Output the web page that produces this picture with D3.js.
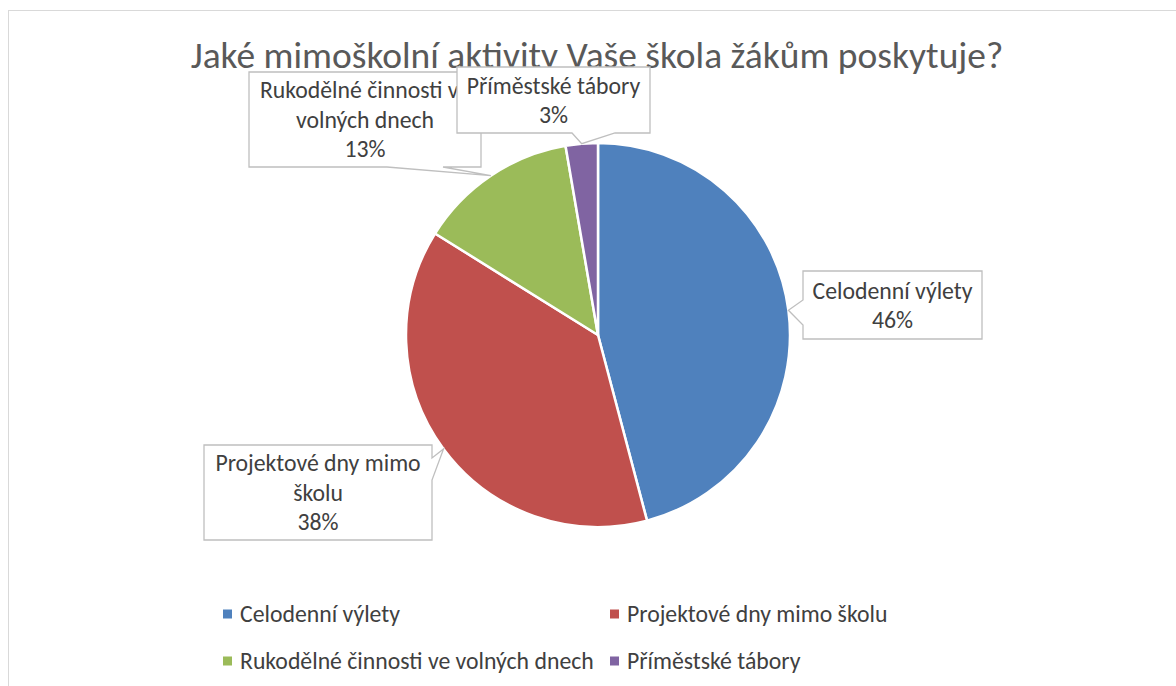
<!DOCTYPE html>
<html>
<head>
<meta charset="utf-8">
<script src="https://cdn.jsdelivr.net/npm/d3@7"></script>
<style>
  html, body { margin: 0; padding: 0; background: #fff; }
  svg { display: block; }
  text { font-family: Carlito, Lato, "Open Sans", sans-serif; }
</style>
</head>
<body>
<svg id="chart" width="1176" height="686"></svg>
<script>
// ---- data ----
const title = "Jaké mimoškolní aktivity Vaše škola žákům poskytuje?";
const categories = [
  "Celodenní výlety",
  "Projektové dny mimo školu",
  "Rukodělné činnosti ve volných dnech",
  "Příměstské tábory"
];
const values = [45.8, 37.9, 13.4, 2.7];
const colors = ["#4f81bd", "#c0504d", "#9bbb59", "#8064a2"];

// ---- layout ----
const W = 1176, H = 686;
const cx = 598, cy = 335, R = 192;
// callout boxes: [x, y, w, h], side of wedge, wedge base range along that side
const boxes = [
  { x: 803, y: 271, w: 179, h: 68, side: "left",   base: [300, 325] },
  { x: 204, y: 445, w: 228, h: 95, side: "right",  base: [458, 480] },
  { x: 249, y: 72,  w: 232, h: 95, side: "bottom", base: [387, 443] },
  { x: 457, y: 67,  w: 193, h: 66, side: "bottom", base: [572, 615] }
];
const lineH = 29.5;
const legendRows = [614, 661];
const legendCols = [223, 610];

const svg = d3.select("#chart");

// outer border
svg.append("rect")
  .attr("x", 8.5).attr("y", 10.5).attr("width", 1300).attr("height", 800)
  .attr("fill", "#fff").attr("stroke", "#d9d9d9").attr("stroke-width", 1);

// title
const titleText = svg.append("text")
  .attr("x", 597).attr("y", 68)
  .attr("text-anchor", "middle")
  .attr("fill", "#595959")
  .attr("font-weight", 300)
  .attr("font-size", 34)
  .text(title);
{
  const w = titleText.node().getComputedTextLength();
  titleText.attr("font-size", 34 * 813 / w);
}

// label font size fitted so "Celodenní výlety" spans ~160px as in the reference
const tmp = svg.append("text").attr("font-size", 20).attr("visibility", "hidden");
tmp.text(categories[0]);
const labelSize = 20 * 160 / tmp.node().getComputedTextLength();
tmp.attr("font-size", labelSize);
function textW(s) { tmp.text(s); return tmp.node().getComputedTextLength(); }
function wrap(str, maxW) {
  const words = str.split(" ");
  const lines = [];
  let cur = "";
  words.forEach(w => {
    const t = cur ? cur + " " + w : w;
    if (cur && textW(t) > maxW) { lines.push(cur); cur = w; }
    else cur = t;
  });
  if (cur) lines.push(cur);
  return lines;
}

// pie
const total = d3.sum(values);
const pie = d3.pie().sort(null).value(d => d)(values);
const arc = d3.arc().innerRadius(0).outerRadius(R);
const g = svg.append("g").attr("transform", `translate(${cx},${cy})`);
g.selectAll("path.slice")
  .data(pie)
  .join("path")
  .attr("class", "slice")
  .attr("d", arc)
  .attr("fill", (d, i) => colors[i])
  .attr("stroke", "#fff")
  .attr("stroke-width", 2.5)
  .attr("stroke-linejoin", "round");

// callout labels
pie.forEach((d, i) => {
  const b = boxes[i];
  const mid = (d.startAngle + d.endAngle) / 2;
  const tx = cx + R * Math.sin(mid);
  const ty = cy - R * Math.cos(mid);
  const x0 = b.x, y0 = b.y, x1 = b.x + b.w, y1 = b.y + b.h;
  let pts;
  if (b.side === "left") {
    pts = [[x0, y0], [x1, y0], [x1, y1], [x0, y1], [x0, b.base[1]], [tx, ty], [x0, b.base[0]]];
  } else if (b.side === "right") {
    pts = [[x0, y0], [x1, y0], [x1, b.base[0]], [tx, ty], [x1, b.base[1]], [x1, y1], [x0, y1]];
  } else {
    pts = [[x0, y0], [x1, y0], [x1, y1], [b.base[1], y1], [tx, ty], [b.base[0], y1], [x0, y1]];
  }
  const gl = svg.append("g");
  gl.append("path")
    .attr("d", "M" + pts.map(p => p.join(",")).join("L") + "Z")
    .attr("fill", "#fff")
    .attr("stroke", "#bfbfbf")
    .attr("stroke-width", 1.3);
  const pct = Math.round(d.value / total * 100) + "%";
  const lines = wrap(categories[i], b.w - 4).concat([pct]);
  const ccx = (x0 + x1) / 2;
  const startY = (y0 + y1) / 2 - (lines.length - 1) * lineH / 2 + labelSize * 0.35;
  const t = gl.append("text")
    .attr("text-anchor", "middle")
    .attr("fill", "#404040")
    .attr("font-size", labelSize);
  lines.forEach((ln, k) => {
    t.append("tspan").attr("x", ccx).attr("y", startY + k * lineH).text(ln);
  });
});

// legend
categories.forEach((c, i) => {
  const col = i % 2, row = Math.floor(i / 2);
  const mx = legendCols[col], my = legendRows[row];
  svg.append("rect")
    .attr("x", mx).attr("y", my - 4.5).attr("width", 9).attr("height", 9)
    .attr("fill", colors[i]);
  svg.append("text")
    .attr("x", mx + 17).attr("y", my + labelSize * 0.35)
    .attr("fill", "#404040")
    .attr("font-size", labelSize)
    .text(c);
});
tmp.remove();
</script>
</body>
</html>
